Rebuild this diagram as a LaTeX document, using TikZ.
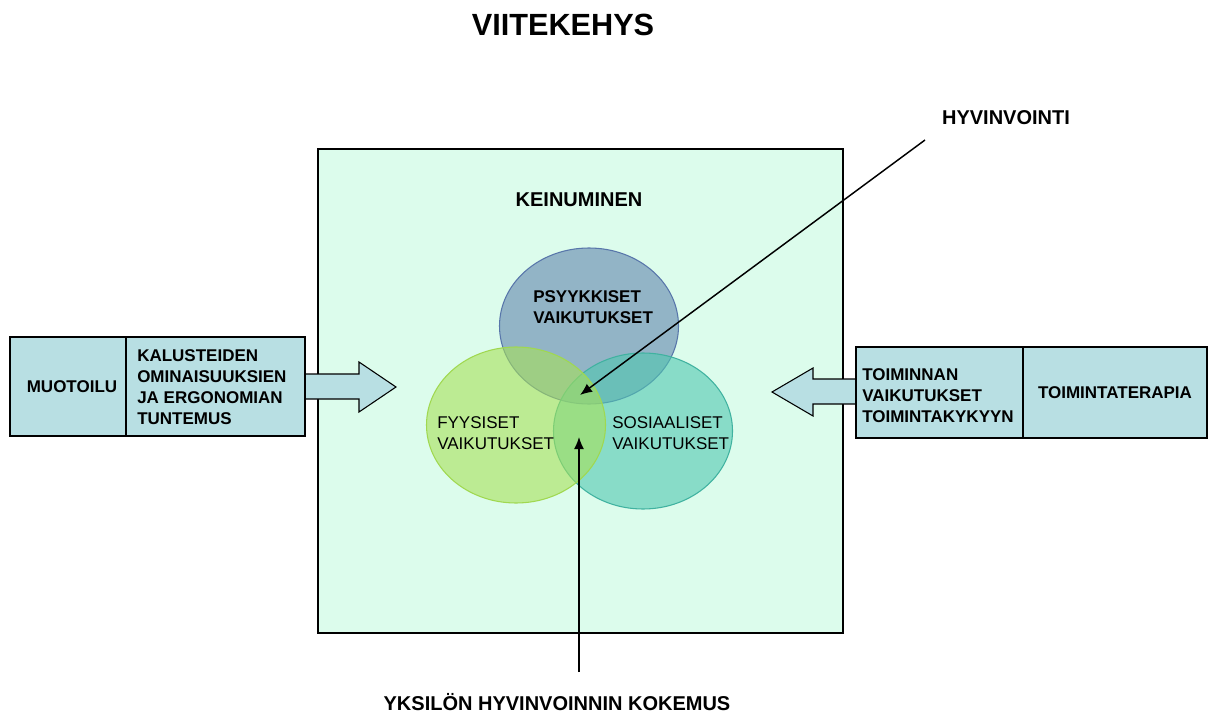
\documentclass[tikz,border=0pt]{standalone}
\usepackage{fontspec}
\setmainfont{Liberation Sans}
\usetikzlibrary{arrows.meta,calc}
\definecolor{mint}{RGB}{220,252,236}
\definecolor{cellblue}{RGB}{184,223,227}
\definecolor{psyfill}{RGB}{98,132,174}
\definecolor{psyline}{RGB}{88,118,170}
\definecolor{fyyfill}{RGB}{167,224,89}
\definecolor{fyyline}{RGB}{160,216,80}
\definecolor{sosfill}{RGB}{80,199,176}
\definecolor{sosline}{RGB}{64,178,160}
\tikzstyle{cell}=[draw=black, fill=cellblue, line width=0.8pt]
\tikzstyle{blockarrow}=[draw=black, fill=cellblue, line width=0.8pt, line join=miter]
\tikzstyle{txt}=[inner sep=0pt, align=left, font=\fontsize{12.75}{15.75}\selectfont\bfseries]
\tikzstyle{plaintxt}=[inner sep=0pt, align=left, font=\fontsize{12.75}{15.75}\selectfont]
\tikzstyle{bigtxt}=[inner sep=0pt, font=\fontsize{15}{18}\selectfont\bfseries]
\tikzstyle{venn}=[fill opacity=0.6, line width=0.8pt]
\tikzstyle{pointer}=[-{Latex[length=9pt,width=7.5pt]}, line width=1.1pt]
\newcommand{\vennRX}{89.5}
\newcommand{\vennRY}{78}
\begin{document}
\begin{tikzpicture}[x=0.75pt,y=-0.75pt]
\useasboundingbox (0,0) rectangle (1213,713);
% title
\node[inner sep=0pt, font=\fontsize{23}{27}\selectfont\bfseries] (title) at (563,25) {VIITEKEHYS};
% frame
\draw[fill=mint, line width=0.8pt] (318,149) rectangle (843,633);
\node[bigtxt] (keinu) at (579,200) {KEINUMINEN};
% venn
\coordinate (cpsy) at (589,326);
\coordinate (csos) at (643,431);
\coordinate (cfyy) at (516,425);
\draw[venn, fill=psyfill, draw=psyline] (cpsy) ellipse [x radius=\vennRX, y radius=\vennRY];
\draw[venn, fill=sosfill, draw=sosline] (csos) ellipse [x radius=\vennRX, y radius=\vennRY];
\draw[venn, fill=fyyfill, draw=fyyline] (cfyy) ellipse [x radius=\vennRX, y radius=\vennRY];
\node[txt, anchor=west] (psy) at (533,307) {PSYYKKISET\\VAIKUTUKSET};
\node[plaintxt, anchor=west] (fyy) at (437,433) {FYYSISET\\VAIKUTUKSET};
\node[plaintxt, anchor=west] (sos) at (612,433.5) {SOSIAALISET\\VAIKUTUKSET};
% left input
\draw[blockarrow] (305,374) -- (359,374) -- (359,362) -- (396,387) -- (359,412) -- (359,399) -- (305,399);
\draw[cell] (10,337) rectangle (126,436);
\draw[cell] (126,337) rectangle (305,436);
\node[txt] (muotoilu) at (72,386.5) {MUOTOILU};
\node[txt, anchor=west] (kalusteet) at (137,387) {KALUSTEIDEN\\OMINAISUUKSIEN\\JA ERGONOMIAN\\TUNTEMUS};
% right input
\draw[blockarrow] (856,379) -- (813,379) -- (813,368) -- (772,392) -- (813,416) -- (813,404) -- (856,404);
\draw[cell] (856,347) rectangle (1023,438);
\draw[cell] (1023,347) rectangle (1207,438);
\node[txt, anchor=west] (toiminta) at (862,396) {TOIMINNAN\\VAIKUTUKSET\\TOIMINTAKYKYYN};
\node[txt] (terapia) at (1115,392.5) {TOIMINTATERAPIA};
% pointers
\node[bigtxt] (hyvinvointi) at (1006,118) {HYVINVOINTI};
\node[bigtxt] (kokemus) at (557,702) {YKSIL\"ON HYVINVOINNIN KOKEMUS};
\coordinate (hvstart) at (925,140);
\coordinate (hvend) at (580,395);
\coordinate (kostart) at (579,672);
\coordinate (koend) at (579,437);
\draw[pointer] (hvstart) -- (hvend);
\draw[pointer] (kostart) -- (koend);
\end{tikzpicture}
\end{document}
